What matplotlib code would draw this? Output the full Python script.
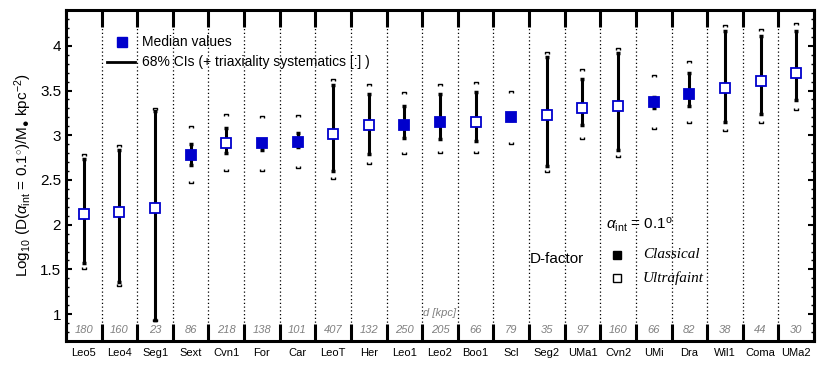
import matplotlib
matplotlib.use("Agg")
import matplotlib.pyplot as plt
from matplotlib.lines import Line2D
from matplotlib.path import Path
from matplotlib.ticker import MultipleLocator, FixedLocator, FuncFormatter, NullFormatter
import matplotlib.transforms as mtransforms

plt.rcParams['font.family'] = ['Liberation Sans', 'DejaVu Sans']
plt.rcParams['mathtext.fontset'] = 'custom'
plt.rcParams['mathtext.rm'] = 'Liberation Sans'
plt.rcParams['mathtext.it'] = 'Liberation Sans:italic'

names = ["Leo5", "Leo4", "Seg1", "Sext", "Cvn1", "For", "Car", "LeoT", "Her", "Leo1", "Leo2",
         "Boo1", "Scl", "Seg2", "UMa1", "Cvn2", "UMi", "Dra", "Wil1", "Coma", "UMa2"]
median = [2.12, 2.14, 2.19, 2.78, 2.91, 2.91, 2.93, 3.01, 3.11, 3.11, 3.15,
          3.15, 3.20, 3.23, 3.31, 3.33, 3.37, 3.46, 3.53, 3.61, 3.70]
ci_low = [1.57, 1.36, 0.93, 2.67, 2.80, 2.83, 2.87, 2.60, 2.79, 2.97, 2.96,
          2.94, 3.17, 2.66, 3.12, 2.83, 3.31, 3.33, 3.15, 3.24, 3.39]
ci_high = [2.73, 2.83, 3.27, 2.90, 3.08, 2.95, 3.02, 3.56, 3.46, 3.33, 3.46,
           3.48, 3.23, 3.87, 3.63, 3.92, 3.43, 3.70, 4.16, 4.11, 4.17]
sys_low = [1.50, 1.31, 0.92, 2.47, 2.60, 2.60, 2.63, 2.51, 2.68, 2.79, 2.80,
           2.80, 2.90, 2.59, 2.96, 2.76, 3.07, 3.14, 3.05, 3.14, 3.28]
sys_high = [2.79, 2.89, 3.31, 3.10, 3.24, 3.21, 3.23, 3.63, 3.57, 3.48, 3.57,
            3.59, 3.50, 3.93, 3.74, 3.98, 3.67, 3.83, 4.23, 4.19, 4.25]
distance_kpc = [180, 160, 23, 86, 218, 138, 101, 407, 132, 250, 205,
                66, 79, 35, 97, 160, 66, 82, 38, 44, 30]
classical = [False, False, False, True, False, True, True, False, False, True, True,
             False, True, False, False, False, True, True, False, False, False]

BLUE = (0.0, 0.0, 0.8)

fig = plt.figure(figsize=(8.3, 3.71), dpi=100)
ax = fig.add_axes([66/830, 1-341/371, 748/830, 331/371])

n = len(names)
xs = list(range(n))
ax.set_xlim(-0.5, n - 0.5)
ax.set_ylim(0.70, 4.40)

# boundaries
for b in range(n - 1):
    ax.axvline(b + 0.5, color='black', linestyle=(0, (1, 2)), lw=0.9, zorder=1)

top_br = Path([(-1, -1), (-1, 0), (1, 0), (1, -1)], [1, 2, 2, 2])
bot_br = Path([(-1, 1), (-1, 0), (1, 0), (1, 1)], [1, 2, 2, 2])

for i in xs:
    ax.plot([i, i], [ci_low[i], ci_high[i]], color='black', lw=2.2, zorder=3,
            solid_capstyle='butt')
    ax.plot([i, i], [ci_low[i], ci_high[i]], ls='none', marker='_', ms=3,
            mew=2.5, color='black', zorder=3)
    ax.plot([i], [sys_high[i]], ls='none', marker=top_br, ms=3.5, mew=1.0,
            mec='black', mfc='none', zorder=3)
    ax.plot([i], [sys_low[i]], ls='none', marker=bot_br, ms=3.5, mew=1.0,
            mec='black', mfc='none', zorder=3)
    ax.plot([i], [median[i]], ls='none', marker='s', ms=7, mew=1.3,
            mec=BLUE, mfc=BLUE if classical[i] else 'white', zorder=4)

trans = mtransforms.blended_transform_factory(ax.transData, ax.transAxes)
for i in xs:
    ax.text(i, 0.033, str(distance_kpc[i]), transform=trans, ha='center', va='center',
            fontsize=8, style='italic', color='0.5')
ax.text(10, 0.085, "d [kpc]", transform=trans, ha='center', va='center',
        fontsize=8, style='italic', color='0.5')

# x ticks
ax.xaxis.set_major_locator(FixedLocator([b + 0.5 for b in range(-1, n)]))
ax.xaxis.set_major_formatter(NullFormatter())
ax.xaxis.set_minor_locator(FixedLocator(xs))
ax.set_xticklabels(names, minor=True)
ax.tick_params(axis='x', which='major', direction='in', length=12, width=2.2,
               top=True, bottom=True)
ax.tick_params(axis='x', which='minor', length=0, labelsize=8, pad=5)

# y ticks
ax.yaxis.set_major_locator(MultipleLocator(0.5))
ax.yaxis.set_minor_locator(MultipleLocator(0.1))
ax.yaxis.set_major_formatter(FuncFormatter(lambda v, p: "%g" % v))
ax.tick_params(axis='y', which='major', direction='in', length=4, width=1.5,
               left=True, right=True, labelsize=11)
ax.tick_params(axis='y', which='minor', direction='in', length=2, width=1.0,
               left=True, right=True)

for s in ax.spines.values():
    s.set_linewidth(2.2)

ax.set_ylabel(r"Log$_{10}$ (D($\alpha_{\rm int}$ = 0.1$^{\circ}$)/M$_{●}$ kpc$^{-2}$)",
              fontsize=11, labelpad=4)

# legend (top-left)
ax.add_line(Line2D([0.0749], [0.903], transform=ax.transAxes, ls='none', marker='s',
                   ms=6.5, mec=BLUE, mfc=BLUE))
ax.text(0.1016, 0.903, "Median values", transform=ax.transAxes, va='center', fontsize=10)
ax.add_line(Line2D([0.0548, 0.0922], [0.843, 0.843], transform=ax.transAxes,
                   color='black', lw=2))
ax.text(0.1016, 0.843, "68% CIs (+ triaxiality systematics [:] )", transform=ax.transAxes,
        va='center', fontsize=10)

# bottom-right annotation
ax.text(0.620, 0.248, "D-factor", transform=ax.transAxes, va='center', fontsize=11)
ax.text(0.722, 0.352, r"$\alpha_{\rm int}$ = 0.1$^{\rm o}$", transform=ax.transAxes,
        va='center', fontsize=11)
ax.add_line(Line2D([0.737], [0.260], transform=ax.transAxes, ls='none', marker='s',
                   ms=5.5, mec='black', mfc='black'))
ax.add_line(Line2D([0.737], [0.190], transform=ax.transAxes, ls='none', marker='s',
                   ms=5.5, mec='black', mfc='white', mew=1.0))
ax.text(0.771, 0.260, "Classical", transform=ax.transAxes, va='center', fontsize=11,
        family='Liberation Serif', style='italic')
ax.text(0.771, 0.190, "Ultrafaint", transform=ax.transAxes, va='center', fontsize=11,
        family='Liberation Serif', style='italic')

fig.savefig("out.png", dpi=100)
